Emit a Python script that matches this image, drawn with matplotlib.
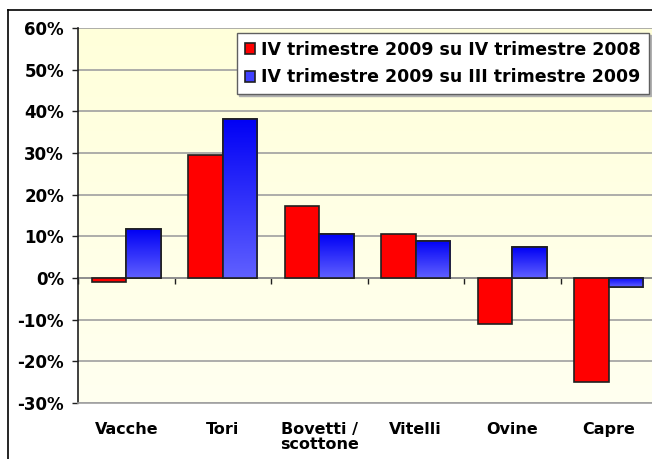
import numpy as np
import matplotlib
matplotlib.use("Agg")
import matplotlib.pyplot as plt
from matplotlib.lines import Line2D
from matplotlib.ticker import FuncFormatter
from matplotlib.colors import LinearSegmentedColormap

categories = ["Vacche", "Tori", "Bovetti /\nscottone", "Vitelli", "Ovine", "Capre"]
series_names = ["IV trimestre 2009 su IV trimestre 2008",
                "IV trimestre 2009 su III trimestre 2009"]
yoy = [-1.0, 29.5, 17.2, 10.5, -11.0, -25.0]
qoq = [11.7, 38.2, 10.5, 9.0, 7.4, -2.2]
y_ticks = [-30, -20, -10, 0, 10, 20, 30, 40, 50, 60]

plt.rcParams['font.family'] = ['DejaVu Sans']
FS = 12
fig = plt.figure(figsize=(6.52, 4.59), dpi=100)
fig.patch.set_facecolor('white')
ax = fig.add_axes([78/652, 1-403/459, 579/652, 375/459])

x = np.arange(len(categories))
w = 0.36
ymin, ymax = -30, 60
nx = len(categories)

# background gradient
bg = np.linspace(0, 1, 256).reshape(-1, 1)
bg_cmap = LinearSegmentedColormap.from_list("bg", ["#FFFFF0", "#FFFFDA"])
ax.imshow(bg, extent=[-0.5, nx-0.5, ymin, ymax], origin='lower', aspect='auto',
          cmap=bg_cmap, zorder=0)

for t in y_ticks:
    ax.axhline(t, color='#A0A0A0', lw=1.2, zorder=1)

red_bars = ax.bar(x - w/2, yoy, w, color='#FF0000', edgecolor='#202020', lw=1.2, zorder=3,
                  label=series_names[0])
blue_bars = ax.bar(x + w/2, qoq, w, color='#4040FF', edgecolor='#202020', lw=1.2, zorder=3,
                   label=series_names[1])

blue_cmap = LinearSegmentedColormap.from_list("bl", ["#6060FF", "#0000F5"])
grad = np.linspace(0, 1, 256).reshape(-1, 1)
for b in blue_bars:
    x0 = b.get_x(); x1 = x0 + b.get_width()
    y0 = min(0, b.get_height()); y1 = max(0, b.get_height())
    im = ax.imshow(grad, extent=[x0, x1, y0, y1], origin='lower', aspect='auto',
                   cmap=blue_cmap, zorder=3.5)
    im.set_clip_path(b)
    ax.bar(b.get_x() + b.get_width()/2, b.get_height(), b.get_width(), facecolor='none',
           edgecolor='#202020', lw=1.2, zorder=4)

ax.set_xlim(-0.5, nx - 0.5)
ax.set_ylim(ymin, ymax)
ax.set_yticks(y_ticks)
ax.yaxis.set_major_formatter(FuncFormatter(lambda v, p: f"{int(v)}%"))
ax.set_xticks(x)
ax.set_xticklabels(categories, fontweight='bold', fontsize=11.5, linespacing=0.95)
ax.tick_params(axis='x', length=0, pad=14)
ax.tick_params(axis='y', length=4, width=1, pad=6, labelsize=FS, color='#202020')
for lbl in ax.get_yticklabels():
    lbl.set_fontweight('bold')

for s in ['top', 'right']:
    ax.spines[s].set_visible(False)
ax.spines['bottom'].set_color('#A0A0A0')
ax.spines['bottom'].set_linewidth(1.2)
ax.spines['left'].set_color('#202020')
ax.spines['left'].set_linewidth(1.2)

# zero axis with category boundary ticks
sec = ax.secondary_xaxis((0 - ymin) / (ymax - ymin))
sec.set_xticks(np.arange(nx + 1) - 0.5)
sec.set_xticklabels([])
sec.tick_params(direction='out', length=4, width=1, color='#202020')
sec.spines['bottom'].set_color('#202020')
sec.spines['bottom'].set_linewidth(1.2)

leg = fig.legend(handles=[red_bars, blue_bars], labels=series_names,
                 loc='upper left', bbox_to_anchor=(237/652, 1-33/459),
                 prop={'weight': 'bold', 'size': 12.5}, frameon=True, fancybox=False,
                 edgecolor='#606060', framealpha=1, borderpad=0.45, labelspacing=0.55,
                 handlelength=0.6, handleheight=0.6, handletextpad=0.35, borderaxespad=0,
                 shadow={'color': '#B0B0B0', 'ox': 1.5, 'oy': -1.5, 'alpha': 1})
leg.get_frame().set_linewidth(1.0)

# outer chart frame
fig.add_artist(Line2D([8/652, 8/652], [0, 1-10/459], color='black', lw=1.2,
                      transform=fig.transFigure))
fig.add_artist(Line2D([8/652, 1], [1-10/459, 1-10/459], color='black', lw=1.2,
                      transform=fig.transFigure))

fig.savefig("out.png", dpi=100)
